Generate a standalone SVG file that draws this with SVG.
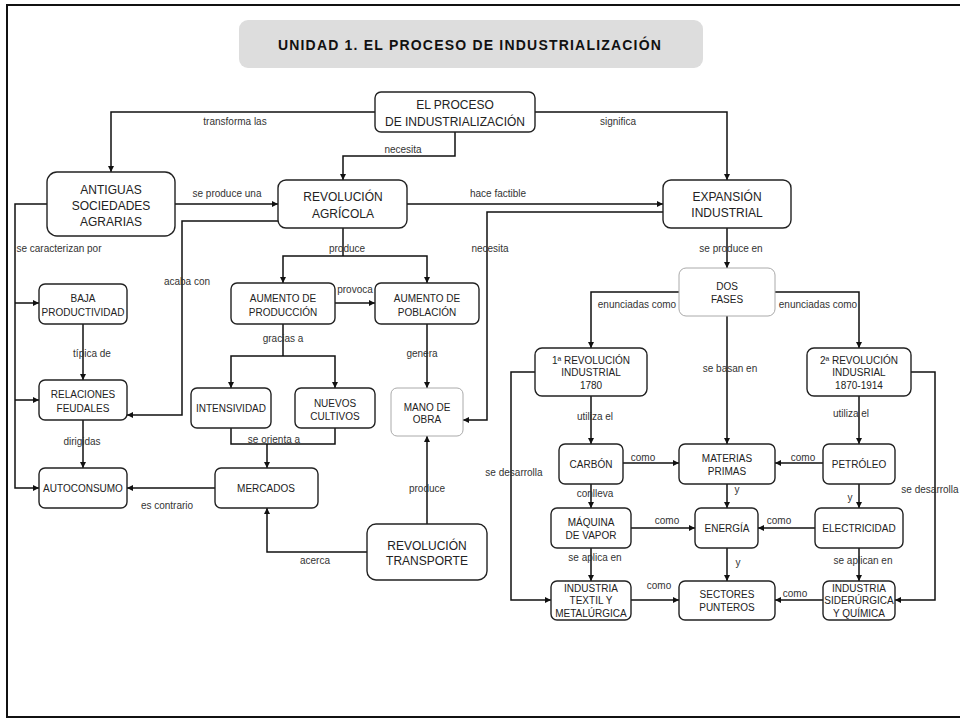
<svg xmlns="http://www.w3.org/2000/svg" width="960" height="723" viewBox="0 0 960 723">
<defs>
<marker id="a" markerWidth="7" markerHeight="6" refX="6" refY="3" orient="auto" markerUnits="userSpaceOnUse"><path d="M0,0 L6,3 L0,6 z" fill="#111"/></marker>
<style>
text{font-family:"Liberation Sans",Arial,sans-serif;text-anchor:middle}
.n rect{fill:#fff;stroke:#222;stroke-width:1.4}
.n text{font-size:10px;fill:#222}
.b text{font-size:12px}
.g rect{stroke:#aaa;stroke-width:1}
.c path{fill:none;stroke:#111;stroke-width:1.5}
.c path.e{marker-end:url(#a)}
.l text{font-size:10px;fill:#333}
</style>
</defs>
<rect x="7" y="5" width="960" height="712" fill="#fff" stroke="#111" stroke-width="2"/>
<g id="title">
<rect x="239" y="20" width="464" height="48" rx="9" fill="#dddddd"/>
<text x="470" y="50" style="font-size:14px;font-weight:bold;letter-spacing:1.2px" fill="#111">UNIDAD 1. EL PROCESO DE INDUSTRIALIZACIÓN</text>
</g>
<g class="c" id="connectors">
<path class="e" d="M375,112 H111 V172"/>
<path class="e" d="M455,132 V156 H343 V180"/>
<path class="e" d="M535,112 H727 V180"/>
<path class="e" d="M175,204 H278"/>
<path class="e" d="M407,204 H663"/>
<path class="e" d="M663,212 H487 V420 H463"/>
<path class="e" d="M278,221 H182 V415 H127"/>
<path class="e" d="M47,204 H15 V488 H39"/>
<path class="e" d="M15,303 H39"/>
<path class="e" d="M15,400 H39"/>
<path class="e" d="M83,324 V380"/>
<path class="e" d="M83,420 V468"/>
<path class="e" d="M215,488 H127"/>
<path d="M343,228 V256"/>
<path class="e" d="M343,256 H283 V283"/>
<path class="e" d="M343,256 H427 V283"/>
<path class="e" d="M335,303 H375"/>
<path d="M283,324 V356"/>
<path class="e" d="M283,356 H231 V388"/>
<path class="e" d="M283,356 H335 V388"/>
<path d="M231,428 V444 H335 V428"/>
<path class="e" d="M267,444 V468"/>
<path class="e" d="M427,324 V388"/>
<path class="e" d="M427,524 V436"/>
<path class="e" d="M367,552 H267 V508"/>
<path class="e" d="M727,228 V268"/>
<path class="e" d="M679,292 H591 V348"/>
<path class="e" d="M775,292 H859 V348"/>
<path class="e" d="M727,316 V444"/>
<path class="e" d="M535,372 H511 V600 H551"/>
<path class="e" d="M911,372 H935 V600 H895"/>
<path class="e" d="M591,396 V444"/>
<path class="e" d="M859,396 V444"/>
<path class="e" d="M623,463 H679"/>
<path class="e" d="M823,463 H775"/>
<path class="e" d="M591,484 V508"/>
<path class="e" d="M727,484 V508"/>
<path class="e" d="M859,484 V508"/>
<path class="e" d="M631,528 H695"/>
<path class="e" d="M815,528 H758"/>
<path class="e" d="M591,548 V581"/>
<path class="e" d="M727,548 V581"/>
<path class="e" d="M859,548 V581"/>
<path class="e" d="M631,600 H679"/>
<path class="e" d="M823,600 H775"/>
</g>
<g class="l" id="labels">
<text x="235" y="124.5">transforma las</text>
<text x="403" y="152.5">necesita</text>
<text x="618" y="124.5">significa</text>
<text x="227" y="196.5">se produce una</text>
<text x="498" y="196.5">hace factible</text>
<text x="490" y="251.5">necesita</text>
<text x="731" y="251.5">se produce en</text>
<text x="347" y="251.5">produce</text>
<text x="59" y="251.5">se caracterizan por</text>
<text x="187" y="284.5">acaba con</text>
<text x="92" y="356.5">típica de</text>
<text x="82" y="444.5">dirigidas</text>
<text x="167" y="508.5">es contrario</text>
<text x="355" y="292.5">provoca</text>
<text x="283" y="341.5">gracias a</text>
<text x="274" y="443">se orienta a</text>
<text x="422" y="356.5">genera</text>
<text x="427" y="491.5">produce</text>
<text x="315" y="563.5">acerca</text>
<text x="637" y="307.5">enunciadas como</text>
<text x="818" y="307.5">enunciadas como</text>
<text x="730" y="371.5">se basan en</text>
<text x="595" y="419.5">utiliza el</text>
<text x="851" y="416.5">utiliza el</text>
<text x="514" y="475.5">se desarrolla</text>
<text x="930" y="492.5">se desarrolla</text>
<text x="643" y="460.5">como</text>
<text x="803" y="460.5">como</text>
<text x="595" y="496.5">conlleva</text>
<text x="737" y="492.5">y</text>
<text x="850" y="500.5">y</text>
<text x="667" y="523.5">como</text>
<text x="779" y="523.5">como</text>
<text x="595" y="560.5">se aplica en</text>
<text x="738" y="565.5">y</text>
<text x="863" y="563.5">se aplican en</text>
<text x="659" y="588.5">como</text>
<text x="795" y="596.5">como</text>
</g>
<g class="n b" id="n-proceso"><rect x="375" y="92" width="160" height="40" rx="6"/><text x="455" y="109">EL PROCESO</text><text x="455" y="126">DE INDUSTRIALIZACIÓN</text></g>
<g class="n b" id="n-antiguas"><rect x="47" y="172" width="128" height="64" rx="10"/><text x="111" y="194">ANTIGUAS</text><text x="111" y="210">SOCIEDADES</text><text x="111" y="226">AGRARIAS</text></g>
<g class="n b" id="n-agricola"><rect x="278" y="180" width="129" height="48" rx="8"/><text x="343" y="201">REVOLUCIÓN</text><text x="343" y="218">AGRÍCOLA</text></g>
<g class="n b" id="n-expansion"><rect x="663" y="180" width="128" height="48" rx="8"/><text x="727" y="201">EXPANSIÓN</text><text x="727" y="217">INDUSTRIAL</text></g>
<g class="n b" id="n-transporte"><rect x="367" y="524" width="120" height="56" rx="9"/><text x="427" y="550">REVOLUCIÓN</text><text x="427" y="565">TRANSPORTE</text></g>
<g class="n" id="n-baja"><rect x="39" y="284" width="88" height="40" rx="6"/><text x="83" y="301.5">BAJA</text><text x="83" y="315.5">PRODUCTIVIDAD</text></g>
<g class="n" id="n-relaciones"><rect x="39" y="380" width="88" height="40" rx="6"/><text x="83" y="397.5">RELACIONES</text><text x="83" y="411.5">FEUDALES</text></g>
<g class="n" id="n-autoconsumo"><rect x="39" y="468" width="88" height="40" rx="6"/><text x="83" y="491.5">AUTOCONSUMO</text></g>
<g class="n" id="n-mercados"><rect x="215" y="468" width="103" height="40" rx="6"/><text x="266" y="491.5">MERCADOS</text></g>
<g class="n" id="n-produccion"><rect x="231" y="283" width="104" height="41" rx="6"/><text x="283" y="301.5">AUMENTO DE</text><text x="283" y="315.5">PRODUCCIÓN</text></g>
<g class="n" id="n-poblacion"><rect x="375" y="283" width="104" height="41" rx="6"/><text x="427" y="301.5">AUMENTO DE</text><text x="427" y="315.5">POBLACIÓN</text></g>
<g class="n" id="n-intensividad"><rect x="191" y="388" width="80" height="40" rx="6"/><text x="231" y="411.5">INTENSIVIDAD</text></g>
<g class="n" id="n-cultivos"><rect x="295" y="388" width="80" height="40" rx="6"/><text x="335" y="406.5">NUEVOS</text><text x="335" y="419.5">CULTIVOS</text></g>
<g class="n g" id="n-mano"><rect x="391" y="388" width="72" height="48" rx="6"/><text x="427" y="410.5">MANO DE</text><text x="427" y="422.5">OBRA</text></g>
<g class="n g" id="n-fases"><rect x="679" y="268" width="96" height="48" rx="7"/><text x="727" y="289.5">DOS</text><text x="727" y="302.5">FASES</text></g>
<g class="n" id="n-rev1"><rect x="535" y="348" width="112" height="48" rx="7"/><text x="591" y="363.5">1ª REVOLUCIÓN</text><text x="591" y="375.5">INDUSTRIAL</text><text x="591" y="388.5">1780</text></g>
<g class="n" id="n-rev2"><rect x="807" y="348" width="104" height="48" rx="7"/><text x="859" y="363.5">2ª REVOLUCIÓN</text><text x="859" y="375.5">INDUSRIAL</text><text x="859" y="388.5">1870-1914</text></g>
<g class="n" id="n-carbon"><rect x="559" y="444" width="64" height="40" rx="6"/><text x="591" y="467.5">CARBÓN</text></g>
<g class="n" id="n-materias"><rect x="679" y="444" width="96" height="40" rx="6"/><text x="727" y="461.5">MATERIAS</text><text x="727" y="474.5">PRIMAS</text></g>
<g class="n" id="n-petroleo"><rect x="823" y="444" width="72" height="40" rx="6"/><text x="859" y="467.5">PETRÓLEO</text></g>
<g class="n" id="n-maquina"><rect x="551" y="508" width="80" height="40" rx="6"/><text x="591" y="525.5">MÁQUINA</text><text x="591" y="538.5">DE VAPOR</text></g>
<g class="n" id="n-energia"><rect x="695" y="508" width="63" height="40" rx="6"/><text x="727" y="531.5">ENERGÍA</text></g>
<g class="n" id="n-electricidad"><rect x="815" y="508" width="88" height="40" rx="6"/><text x="859" y="531.5">ELECTRICIDAD</text></g>
<g class="n" id="n-textil"><rect x="551" y="581" width="80" height="39" rx="6"/><text x="591" y="591.5">INDUSTRIA</text><text x="591" y="603.5">TEXTIL Y</text><text x="591" y="616.5">METALÚRGICA</text></g>
<g class="n" id="n-sectores"><rect x="679" y="581" width="96" height="39" rx="6"/><text x="727" y="597.5">SECTORES</text><text x="727" y="610.5">PUNTEROS</text></g>
<g class="n" id="n-siderurgica"><rect x="823" y="581" width="72" height="39" rx="6"/><text x="859" y="591.5">INDUSTRIA</text><text x="859" y="603.5">SIDERÚRGICA</text><text x="859" y="616.5">Y QUÍMICA</text></g>
</svg>
